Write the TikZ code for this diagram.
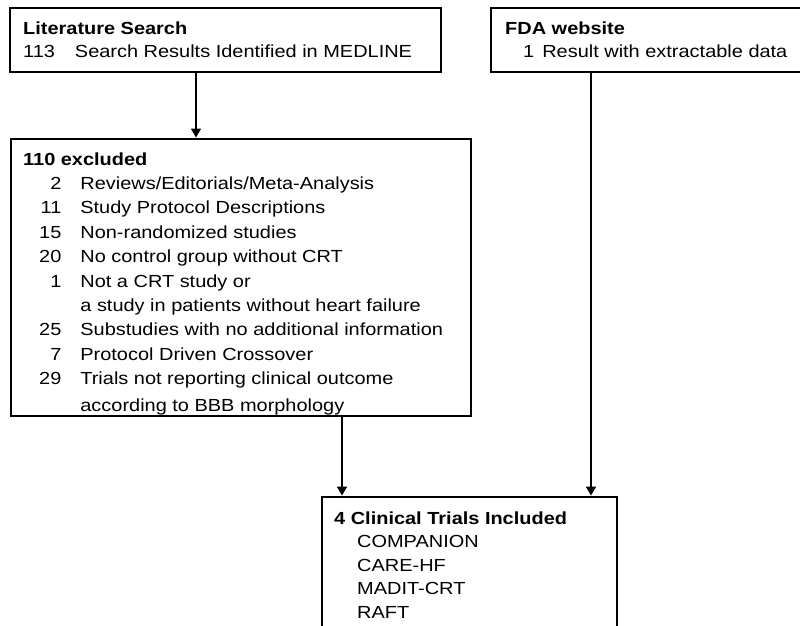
\documentclass[tikz,border=0pt]{standalone}
\usepackage{fontspec}
\setmainfont{Liberation Sans}[FakeStretch=1.14]
\usetikzlibrary{arrows.meta}
\tikzset{
  box/.style={draw, line width=1.5pt, inner sep=0pt},
  txt/.style={anchor=base west, inner sep=0pt},
  flow/.style={line width=1.5pt, -{Triangle[length=9pt,width=10pt]}, shorten >=0.7pt}
}
\begin{document}
\begin{tikzpicture}[x=1pt,y=-1pt]
         \useasboundingbox (0,0) rectangle (800,626);
         \clip (0,0) rectangle (800,626);
         % boxes
         \node[box, minimum width=431pt, minimum height=64pt] (search) at (225.5,40) {};
         \node[box, minimum width=319pt, minimum height=64pt] (fda) at (650.5,40) {};
         \node[box, minimum width=460pt, minimum height=277pt] (excluded) at (241,277.5) {};
         \node[box, minimum width=295pt, minimum height=163pt] (included) at (469.5,578.5) {};
         % texts
         \node[txt, font=\fontsize{17.5}{22}\selectfont] (searchtxt) at (23,35) {\begin{tabular}[t]{@{}l@{\hspace{20pt}}l@{}}
           \multicolumn{2}{@{}l@{}}{\bfseries Literature Search}\\
           113 & Search Results Identified in MEDLINE
         \end{tabular}};
         \node[txt, font=\fontsize{17.5}{22.5}\selectfont] (fdatxt) at (505,35) {\begin{tabular}[t]{@{\hspace{18pt}}l@{\hspace{8pt}}l@{}}
           \multicolumn{2}{@{}l@{}}{\bfseries FDA website}\\
           1 & Result with extractable data
         \end{tabular}};
         \node[txt, font=\fontsize{17.5}{24.4}\selectfont] (excludedtxt) at (23,165) {\begin{tabular}[t]{@{\hspace{16pt}}r@{\hspace{19pt}}l@{}}
           \multicolumn{2}{@{}l@{}}{\bfseries 110 excluded}\\
           2 & Reviews/Editorials/Meta-Analysis\\
           11 & Study Protocol Descriptions\\
           15 & Non-randomized studies\\
           20 & No control group without CRT\\
           1 & Not a CRT study or\\
             & a study in patients without heart failure\\
           25 & Substudies with no additional information\\
           7 & Protocol Driven Crossover\\
           29 & Trials not reporting clinical outcome\\[2.6pt]
             & according to BBB morphology
         \end{tabular}};
         \node[txt, font=\fontsize{17.5}{23.6}\selectfont] (includedtxt) at (334,524) {\begin{tabular}[t]{@{\hspace{23pt}}l@{}}
           \multicolumn{1}{@{}l@{}}{\bfseries 4 Clinical Trials Included}\\
           COMPANION\\
           CARE-HF\\
           MADIT-CRT\\
           RAFT
         \end{tabular}};
         % arrows
         \coordinate (x1) at (196,0);
         \coordinate (x2) at (342,0);
         \coordinate (x3) at (591,0);
         \draw[flow] (search.south -| x1) -- (excluded.north -| x1);
         \draw[flow] (excluded.south -| x2) -- (included.north -| x2);
         \draw[flow] (fda.south -| x3) -- (included.north -| x3);
      \end{tikzpicture}
\end{document}
